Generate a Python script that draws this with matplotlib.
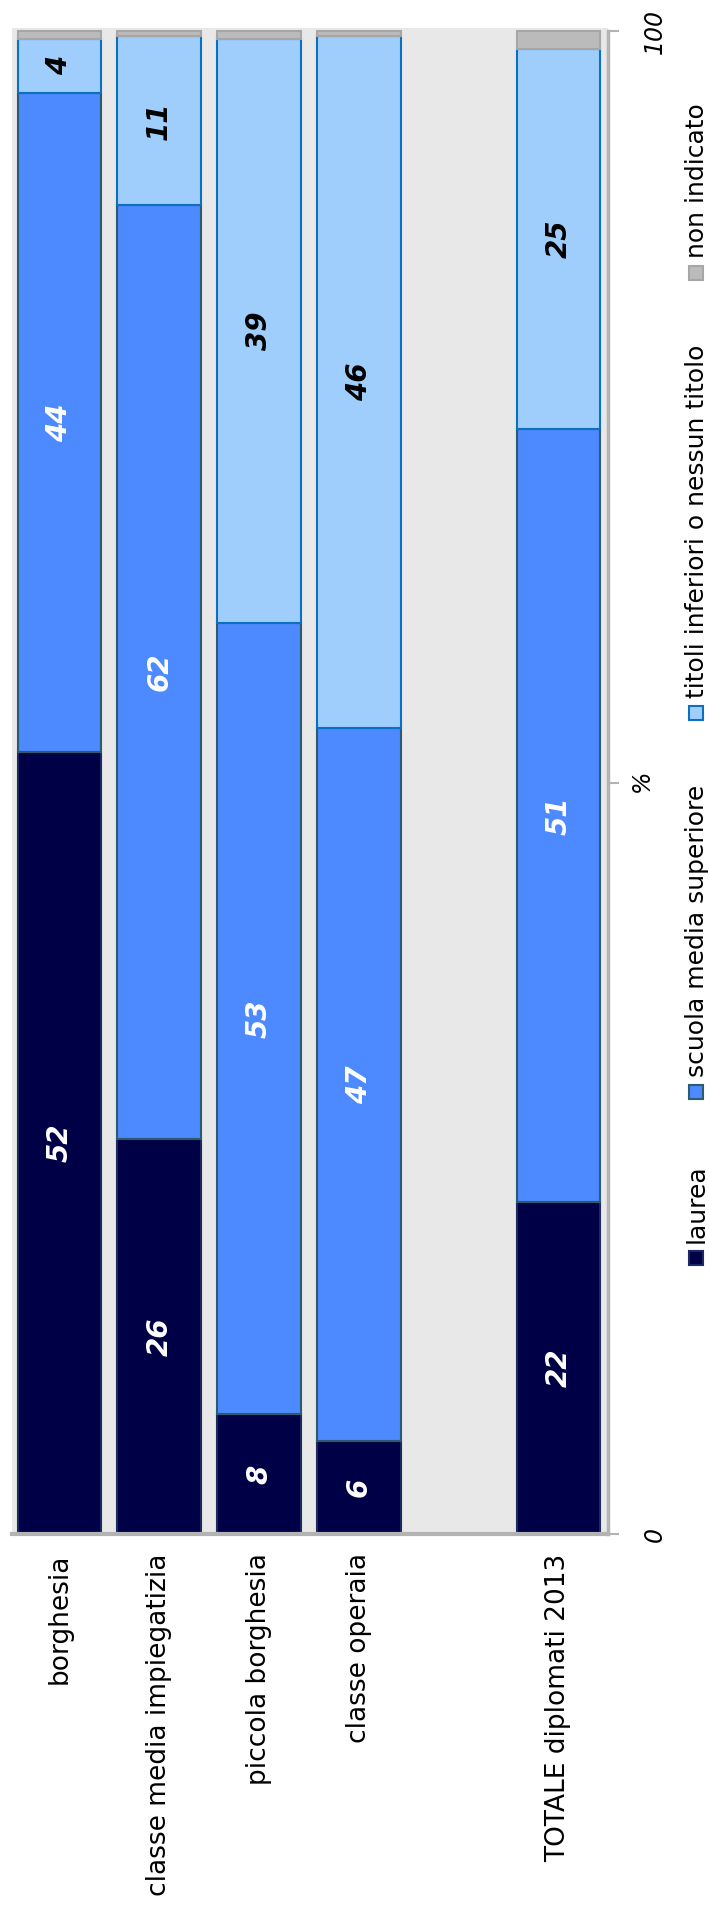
import numpy as np
import matplotlib.pyplot as plt
import matplotlib.patches as mpatches


categories = ["borghesia", "classe media impiegatizia", "piccola borghesia",
              "classe operaia", "TOTALE diplomati 2013"]
series = ["laurea", "scuola media superiore",
          "titoli inferiori o nessun titolo", "non indicato"]

laurea = [52.0, 26.3, 8.0, 6.2, 22.1]
scuola_media = [43.9, 62.1, 52.6, 47.4, 51.4]
titoli_inferiori = [3.6, 11.3, 38.9, 46.1, 25.3]
non_indicato = [0.5, 0.3, 0.5, 0.3, 1.2]

W, H = 709, 1919
colors = ["#000046", "#4d89ff", "#a0cefc", "#bbbbbb"]
edges = ["#1b2a5e", "#2c5a6e", "#0b70c0", "#a6a6a6"]
label_colors = ["white", "white", "black", None]

fig = plt.figure(figsize=(W / 100, H / 100), dpi=100)
ax = fig.add_axes([12 / W, (H - 1534) / H, (608 - 12) / W, (1534 - 28) / H])
ax.set_facecolor("#e8e8e8")

x = np.array([0, 1, 2, 3, 5])
bottom = np.zeros(len(categories))
data = [laurea, scuola_media, titoli_inferiori, non_indicato]
for i, vals in enumerate(data):
    vals = np.array(vals)
    bars = ax.bar(x, vals, width=0.84, bottom=bottom, color=colors[i],
                  edgecolor=edges[i], linewidth=1.5, label=series[i], zorder=2)
    if label_colors[i]:
        ax.bar_label(bars, labels=[f"{v:.0f}" for v in vals], label_type="center",
                     rotation=90, fontsize=20, fontweight="bold",
                     fontstyle="italic", color=label_colors[i])
    bottom += vals

ax.set_xlim(-0.476, 5.496)
ax.set_ylim(0, 100.2)
ax.set_xticks(x)
ax.set_xticklabels(categories, rotation=90, fontsize=19)
ax.tick_params(axis="x", length=0, pad=14)

ax.yaxis.tick_right()
ax.set_yticks([0, 50, 100])
ax.set_yticklabels(["0", "", "100"], fontsize=17, fontstyle="italic", rotation=90,
                   va="center")
ax.tick_params(axis="y", length=8, width=1.5, color="#b3b3b3", pad=17)
ax.set_ylabel("%", fontsize=17, fontstyle="italic", rotation=90,
              ha="center", va="center")
ax.yaxis.set_label_coords(1.057, 0.5)

for s in ["left", "top"]:
    ax.spines[s].set_visible(False)
ax.spines["right"].set_color("#b3b3b3")
ax.spines["right"].set_linewidth(2.5)
ax.spines["right"].set_bounds(0, 100)
ax.spines["bottom"].set_color("#b3b3b3")
ax.spines["bottom"].set_linewidth(3)

# legend, rotated like the rest: entries stacked bottom -> top with equal gaps
renderer = fig.canvas.get_renderer()
texts = [fig.text(0, 0, name, rotation=90, ha="center", va="bottom", fontsize=18)
         for name in series]
lengths = [t.get_window_extent(renderer).height for t in texts]
mark, pad = 14, 8
y_low, y_high = 1265, 266         # first marker bottom, last marker top (px from top)
used = sum(lengths[:-1]) + len(series) * mark + (len(series) - 1) * pad
gap = ((y_low - y_high) - used) / (len(series) - 1)
y = y_low
for i, t in enumerate(texts):
    fig.patches.append(mpatches.Rectangle((689 / W, 1 - y / H), mark / W, mark / H,
                                          transform=fig.transFigure,
                                          facecolor=colors[i], edgecolor=edges[i],
                                          linewidth=1.5))
    y -= mark + pad
    t.set_position((697 / W, 1 - y / H))
    y -= lengths[i] + gap

fig.savefig("out.png", dpi=100)
